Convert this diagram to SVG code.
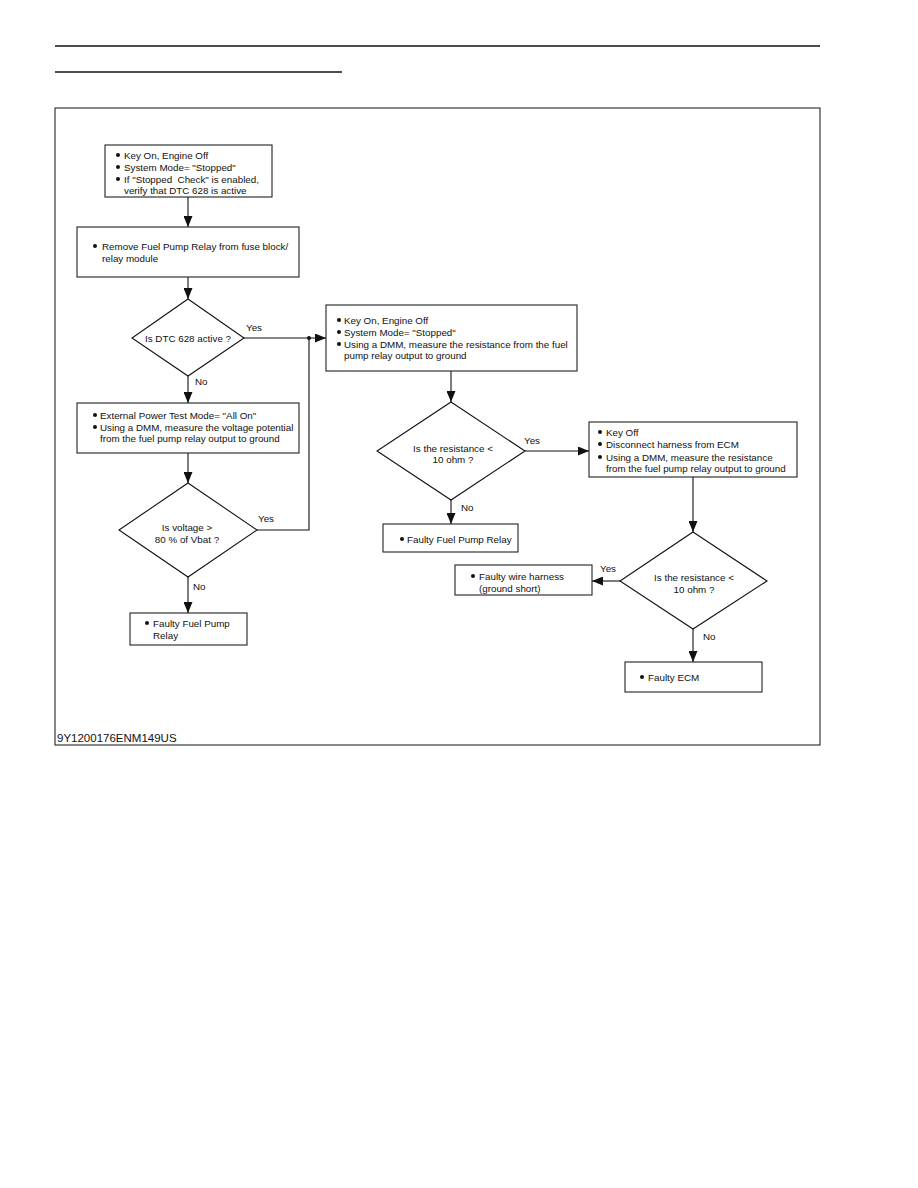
<svg xmlns="http://www.w3.org/2000/svg" width="918" height="1188" viewBox="0 0 918 1188">
<defs>
<style>
.bx{fill:#fff;stroke:#222;stroke-width:1.1}
.dm{fill:#fff;stroke:#111;stroke-width:1.1}
.ln{fill:none;stroke:#111;stroke-width:1.1}
text{font-family:"Liberation Sans",Arial,sans-serif;font-size:9.8px;fill:#111}
.c{text-anchor:middle}
.bl{fill:#111}
</style>
<marker id="ah" viewBox="0 0 11 9" refX="11" refY="4.5" markerWidth="11" markerHeight="9" markerUnits="userSpaceOnUse" orient="auto">
<path d="M0,0 L11,4.5 L0,9 Z" fill="#111"/>
</marker>
</defs>
<rect width="918" height="1188" fill="#fff"/>
<line x1="55" y1="46" x2="820" y2="46" stroke="#111" stroke-width="1.3"/>
<line x1="55" y1="72" x2="342" y2="72" stroke="#111" stroke-width="1.3"/>
<rect x="55" y="108" width="765" height="637" fill="none" stroke="#111" stroke-width="1"/>
<text x="57" y="742" style="font-size:11.5px">9Y1200176ENM149US</text>

<g id="connectors">
<line class="ln" x1="188" y1="197" x2="188" y2="227" marker-end="url(#ah)"/>
<line class="ln" x1="188" y1="277" x2="188" y2="299" marker-end="url(#ah)"/>
<line class="ln" x1="244" y1="338" x2="326" y2="338" marker-end="url(#ah)"/>
<circle cx="309" cy="338" r="2" class="bl"/>
<text x="246" y="331">Yes</text>
<line class="ln" x1="188" y1="376" x2="188" y2="403" marker-end="url(#ah)"/>
<text x="195" y="385">No</text>
<line class="ln" x1="188" y1="453" x2="188" y2="483" marker-end="url(#ah)"/>
<polyline class="ln" points="257,530 309,530 309,338"/>
<text x="258" y="522">Yes</text>
<line class="ln" x1="188" y1="577" x2="188" y2="613" marker-end="url(#ah)"/>
<text x="193" y="590">No</text>
<line class="ln" x1="451" y1="371" x2="451" y2="402" marker-end="url(#ah)"/>
<line class="ln" x1="525" y1="451" x2="589" y2="451" marker-end="url(#ah)"/>
<text x="524" y="444">Yes</text>
<line class="ln" x1="451" y1="500" x2="451" y2="524" marker-end="url(#ah)"/>
<text x="461" y="511">No</text>
<line class="ln" x1="693" y1="477" x2="693" y2="532" marker-end="url(#ah)"/>
<line class="ln" x1="620" y1="581" x2="592" y2="581" marker-end="url(#ah)"/>
<text x="600" y="572">Yes</text>
<line class="ln" x1="693" y1="629" x2="693" y2="662" marker-end="url(#ah)"/>
<text x="703" y="640">No</text>
</g>

<g id="n1">
<rect class="bx" x="105" y="145" width="167" height="52"/>
<circle class="bl" cx="118" cy="155" r="2"/><text x="124" y="158.5">Key On, Engine Off</text>
<circle class="bl" cx="118" cy="167" r="2"/><text x="124" y="170.5">System Mode= "Stopped"</text>
<circle class="bl" cx="118" cy="179" r="2"/><text x="124" y="182.5">If "Stopped&#160; Check" is enabled,</text>
<text x="124" y="194">verify that DTC 628 is active</text>
</g>

<g id="n2">
<rect class="bx" x="77" y="227" width="222" height="50"/>
<circle class="bl" cx="95" cy="246" r="2"/><text x="102" y="249.5">Remove Fuel Pump Relay from fuse block/</text>
<text x="102" y="261.5">relay module</text>
</g>

<g id="d1">
<polygon class="dm" points="188,299 244,338 188,376 132,338"/>
<text class="c" x="188" y="341.5">Is DTC 628 active ?</text>
</g>

<g id="n3">
<rect class="bx" x="326" y="305" width="251" height="66"/>
<circle class="bl" cx="339" cy="320" r="2"/><text x="344" y="323.5">Key On, Engine Off</text>
<circle class="bl" cx="339" cy="332" r="2"/><text x="344" y="335.5">System Mode= "Stopped"</text>
<circle class="bl" cx="339" cy="344" r="2"/><text x="344" y="347.5">Using a DMM, measure the resistance from the fuel</text>
<text x="344" y="359">pump relay output to ground</text>
</g>

<g id="n4">
<rect class="bx" x="77" y="403" width="222" height="50"/>
<circle class="bl" cx="95" cy="415" r="2"/><text x="100" y="418.5">External Power Test Mode= "All On"</text>
<circle class="bl" cx="95" cy="427" r="2"/><text x="100" y="430.5">Using a DMM, measure the voltage potential</text>
<text x="100" y="442">from the fuel pump relay output to ground</text>
</g>

<g id="d2">
<polygon class="dm" points="188,483 257,530 188,577 119,530"/>
<text class="c" x="187" y="531">Is voltage &gt;</text>
<text class="c" x="187" y="543">80 % of Vbat ?</text>
</g>

<g id="n5">
<rect class="bx" x="130" y="613" width="117" height="32"/>
<circle class="bl" cx="147" cy="623" r="2"/><text x="153" y="626.5">Faulty Fuel Pump</text>
<text x="153" y="638.5">Relay</text>
</g>

<g id="d3">
<polygon class="dm" points="451,402 525,451 451,500 377,451"/>
<text class="c" x="453" y="451.5">Is the resistance &lt;</text>
<text class="c" x="453" y="463">10 ohm ?</text>
</g>

<g id="n6">
<rect class="bx" x="383" y="524" width="135" height="28"/>
<circle class="bl" cx="402" cy="539" r="2"/><text x="407" y="542.5">Faulty Fuel Pump Relay</text>
</g>

<g id="n7">
<rect class="bx" x="589" y="422" width="208" height="55"/>
<circle class="bl" cx="600" cy="432" r="2"/><text x="606" y="435.5">Key Off</text>
<circle class="bl" cx="600" cy="444" r="2"/><text x="606" y="447.5">Disconnect harness from ECM</text>
<circle class="bl" cx="600" cy="457" r="2"/><text x="606" y="460.5">Using a DMM, measure the resistance</text>
<text x="606" y="472">from the fuel pump relay output to ground</text>
</g>

<g id="d4">
<polygon class="dm" points="693,532 767,581 693,629 620,581"/>
<text class="c" x="694" y="580.5">Is the resistance &lt;</text>
<text class="c" x="694" y="593">10 ohm ?</text>
</g>

<g id="n8">
<rect class="bx" x="455" y="565" width="137" height="30"/>
<circle class="bl" cx="473" cy="576" r="2"/><text x="479" y="579.5">Faulty wire harness</text>
<text x="479" y="591.5">(ground short)</text>
</g>

<g id="n9">
<rect class="bx" x="625" y="662" width="137" height="30"/>
<circle class="bl" cx="642" cy="677" r="2"/><text x="648" y="680.5">Faulty ECM</text>
</g>
</svg>
